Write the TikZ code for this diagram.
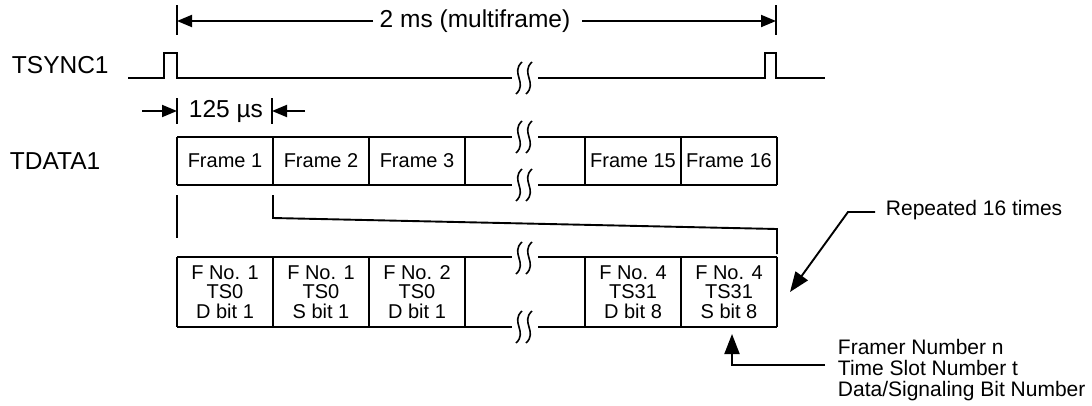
\documentclass[tikz,border=0pt]{standalone}
\usepackage{fontspec}
\setmainfont{Liberation Sans}
\usetikzlibrary{arrows.meta}
\newcommand\mybreak[1]{%
  \foreach \dx in {519,529}{%
    \draw[line width=1.6pt] (\dx+3,#1-16) .. controls (\dx-9,#1-5) and (\dx+9,#1+5) .. (\dx-3,#1+16);
  }}
\begin{document}
\begin{tikzpicture}[x=1pt,y=-1pt,line width=1.9pt,
  lbl/.style={font=\fontsize{24.5}{24}\selectfont,inner sep=0pt},
  cell/.style={font=\fontsize{20}{19.5}\selectfont,inner sep=0pt,align=center},
  note/.style={font=\fontsize{21}{20}\selectfont,inner sep=0pt,align=left},
  tip/.style={-{Triangle[length=15pt,width=12pt]}},
  bigtip/.style={-{Triangle[length=20pt,width=15pt]}}]
\useasboundingbox (0,0) rectangle (1092,405);

% labels
\node[lbl,anchor=west] (tsync) at (11,65) {TSYNC1};
\node[lbl,anchor=west] (tdata) at (9,161) {TDATA1};

% 2 ms multiframe
\node[lbl] (ms) at (475,21) {2 ms (multiframe)};
\coordinate (msL) at (177,21);
\coordinate (msR) at (776,21);
\draw (177,5) -- (177,35);
\draw (776,5) -- (776,35);
\draw[tip] (373,21) -- (msL);
\draw[tip] (582,21) -- (msR);

% TSYNC1 waveform
\draw (128,78) -- (164,78) -- (164,53) -- (177,53) -- (177,78) -- (512,78);
\draw (538,78) -- (765,78) -- (765,53) -- (776,53) -- (776,78) -- (825,78);
\mybreak{78}

% 125 us
\node[lbl] (us) at (226,111) {125 µs};
\coordinate (usL) at (177,111);
\coordinate (usR) at (272,111);
\draw (177,98) -- (177,124);
\draw (272,98) -- (272,124);
\draw[tip] (142,111) -- (usL);
\draw[tip] (305,111) -- (usR);

% TDATA1 frames
\draw (177,137) -- (512,137);
\draw (538,137) -- (777,137);
\draw (177,185) -- (512,185);
\draw (538,185) -- (777,185);
\foreach \x in {177,273,369,465,585,681,777} \draw (\x,137) -- (\x,185);
\mybreak{137}
\mybreak{185}
\node[cell] (f1) at (225,161) {Frame 1};
\node[cell] (f2) at (321,161) {Frame 2};
\node[cell] (f3) at (417,161) {Frame 3};
\node[cell] (f15) at (633,161) {Frame 15};
\node[cell] (f16) at (729,161) {Frame 16};

% expansion lines
\draw (177,195) -- (177,238);
\draw (273,195) -- (273,218) -- (777,229) -- (777,254);

% time slots
\draw (177,257) -- (512,257);
\draw (538,257) -- (777,257);
\draw (177,327) -- (512,327);
\draw (538,327) -- (777,327);
\foreach \x in {177,273,369,465,585,681,777} \draw (\x,257) -- (\x,327);
\mybreak{258}
\mybreak{327}
\node[cell] (s1) at (225,292) {F No. 1\\TS0\\D bit 1};
\node[cell] (s2) at (321,292) {F No. 1\\TS0\\S bit 1};
\node[cell] (s3) at (417,292) {F No. 2\\TS0\\D bit 1};
\node[cell] (s15) at (633,292) {F No. 4\\TS31\\D bit 8};
\node[cell] (s16) at (729,292) {F No. 4\\TS31\\S bit 8};

% annotations
\node[note,anchor=west] (rep) at (885,210) {Repeated 16 times};
\coordinate (repT) at (790,292);
\draw[bigtip] (875,212) -- (848,212) -- (repT);

\node[note,anchor=west] (leg) at (837,370) {Framer Number n\\[1pt]Time Slot Number t\\[1pt]Data/Signaling Bit Number};
\coordinate (legT) at (732,334);
\draw[bigtip] (825,365) -- (732,365) -- (legT);
\end{tikzpicture}
\end{document}
